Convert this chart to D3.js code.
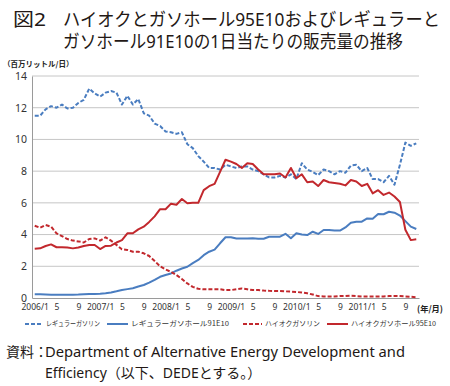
<!DOCTYPE html>
<html>
<head>
<meta charset="utf-8">
<script src="https://cdn.jsdelivr.net/npm/d3@7"></script>
<style>
  body { margin: 0; background: #fff; }
  text { font-family: "Noto Sans", "Noto Sans CJK JP", sans-serif; }
  .jp { font-family: "Noto Sans CJK JP", sans-serif; }
</style>
</head>
<body>
<svg id="chart" width="450" height="386"></svg>
<script>
// 月次カテゴリ 2006/1 〜 2011/11
const years = [2006, 2007, 2008, 2009, 2010, 2011];
const months = years.flatMap(y => d3.range(1, 13).map(m => `${y}/${m}`)).slice(0, 71);
const yTicks = [0, 2, 4, 6, 8, 10, 12, 14];

// 販売量（百万リットル/日）
const regularGasoline = [
  11.5, 11.5, 11.9, 12.1, 12.0, 12.2, 11.95, 12.0, 12.3, 12.5, 13.2, 12.9,
  12.7, 12.95, 13.05, 12.95, 12.2, 12.75, 12.2, 12.55, 11.65, 11.5, 11.0, 10.85,
  10.5, 10.45, 10.35, 10.45, 9.7, 9.45, 8.95, 8.6, 8.2, 8.2, 8.1, 8.4,
  8.3, 8.2, 8.3, 8.3, 8.1, 8.0, 7.8, 7.6, 7.6, 7.7, 7.6, 7.8,
  7.5, 8.5, 8.1, 7.95, 7.75, 8.1, 8.0, 7.8, 8.0, 7.9, 8.35, 8.4,
  8.0, 8.2, 7.5, 7.5, 7.3, 7.7, 7.15, 8.4, 9.8, 9.6, 9.75
];
const regularGasohol91 = [
  0.23, 0.23, 0.22, 0.21, 0.2, 0.2, 0.2, 0.21, 0.22, 0.24, 0.25, 0.26,
  0.27, 0.3, 0.35, 0.42, 0.5, 0.56, 0.62, 0.72, 0.82, 0.97, 1.15, 1.34,
  1.45, 1.55, 1.72, 1.86, 1.97, 2.2, 2.4, 2.7, 2.92, 3.05, 3.45, 3.83,
  3.83, 3.75, 3.75, 3.76, 3.77, 3.74, 3.74, 3.86, 3.87, 3.87, 4.05, 3.77,
  4.08, 4.0, 3.97, 4.18, 4.04, 4.29, 4.29, 4.25, 4.25, 4.45, 4.75, 4.81,
  4.81, 5.02, 5.0, 5.3, 5.28, 5.44, 5.38, 5.2, 4.85, 4.5, 4.35
];
const premiumGasoline = [
  4.56, 4.43, 4.6, 4.5, 4.08, 3.9, 3.72, 3.62, 3.57, 3.5, 3.72, 3.76,
  3.62, 3.83, 3.62, 3.35, 3.07, 3.03, 2.92, 2.92, 2.82, 2.65, 2.33, 2.0,
  1.8, 1.65, 1.45, 1.2, 0.92, 0.7, 0.58, 0.55, 0.55, 0.55, 0.55, 0.5,
  0.5, 0.55, 0.6, 0.55, 0.5, 0.5, 0.47, 0.45, 0.44, 0.44, 0.42, 0.4,
  0.38, 0.35, 0.3, 0.22, 0.12, 0.1, 0.1, 0.1, 0.12, 0.12, 0.14, 0.12,
  0.1, 0.1, 0.1, 0.1, 0.1, 0.12, 0.13, 0.12, 0.1, 0.08, 0.05
];
const premiumGasohol95 = [
  3.1, 3.13, 3.28, 3.38, 3.2, 3.2, 3.18, 3.13, 3.18, 3.28, 3.34, 3.34,
  3.09, 3.28, 3.3, 3.5, 3.65, 4.08, 4.08, 4.33, 4.5, 4.8, 5.15, 5.6,
  5.6, 5.95, 5.88, 6.24, 5.97, 6.0, 6.0, 6.8, 7.05, 7.2, 7.95, 8.72,
  8.6, 8.45, 8.2, 8.5, 8.45, 8.1, 7.8, 7.8, 7.8, 7.85, 7.6, 8.2,
  7.55, 7.8, 7.3, 7.35, 7.06, 7.44, 7.3, 7.25, 7.2, 7.1, 7.44, 7.35,
  7.06, 7.2, 6.6, 6.8, 6.5, 6.65, 6.4, 6.05, 4.3, 3.65, 3.7
];

const seriesNames = ["レギュラーガソリン", "レギュラーガソホール91E10", "ハイオクガソリン", "ハイオクガソホール95E10"];

const blue = "#4a7dc0";
const red = "#c2282d";
const series = [
  {name: seriesNames[0], values: regularGasoline, color: blue, dash: "4,2"},
  {name: seriesNames[1], values: regularGasohol91, color: blue, dash: null},
  {name: seriesNames[2], values: premiumGasoline, color: red, dash: "4,2"},
  {name: seriesNames[3], values: premiumGasohol95, color: red, dash: null}
];

const svg = d3.select("#chart");
svg.append("rect").attr("width", 450).attr("height", 386).attr("fill", "#fff");

const plot = {left: 32, right: 419, top: 76, bottom: 298};

const x = d3.scalePoint().domain(months).range([plot.left, plot.right]).padding(0.5);
const y = d3.scaleLinear().domain([0, 14]).range([plot.bottom, plot.top]);

// タイトル
const title = svg.append("g").attr("class", "jp").attr("fill", "#231815").attr("font-size", 18.5);
title.append("text").attr("x", 13).attr("y", 26)
  .attr("textLength", 33).attr("lengthAdjust", "spacingAndGlyphs").text("図2");
title.append("text").attr("x", 63).attr("y", 26)
  .attr("textLength", 377).attr("lengthAdjust", "spacingAndGlyphs")
  .text("ハイオクとガソホール95E10およびレギュラーと");
title.append("text").attr("x", 63).attr("y", 48)
  .attr("textLength", 340).attr("lengthAdjust", "spacingAndGlyphs")
  .text("ガソホール91E10の1日当たりの販売量の推移");

// 単位
svg.append("text").attr("class", "jp").attr("x", 3).attr("y", 67)
  .attr("font-size", 7.5).attr("font-weight", "bold").attr("fill", "#222")
  .text("（百万リットル/日）");

// グリッド
svg.append("g")
  .selectAll("line")
  .data(yTicks.filter(d => d > 0))
  .enter()
  .append("line")
  .attr("x1", plot.left).attr("x2", plot.right)
  .attr("y1", d => y(d)).attr("y2", d => y(d))
  .attr("stroke", "#c6c6c6").attr("stroke-width", 1);

// 軸
const yAxis = svg.append("g").attr("transform", `translate(${plot.left},0)`)
  .call(d3.axisLeft(y).tickValues(yTicks).tickSize(0).tickPadding(5));
yAxis.select(".domain").attr("stroke", "#9a9a9a");
yAxis.selectAll("text").attr("font-size", 10.5).attr("fill", "#333");

const tickMonths = months.filter((m, i) => i % 4 === 0);
const xAxis = svg.append("g").attr("transform", `translate(0,${plot.bottom})`)
  .call(d3.axisBottom(x).tickValues(tickMonths).tickSize(0).tickPadding(6)
    .tickFormat(m => m.endsWith("/1") ? m : m.split("/")[1]));
xAxis.select(".domain").attr("stroke", "#9a9a9a");
xAxis.selectAll("text").attr("font-size", 8.5).attr("fill", "#333");

svg.append("text").attr("class", "jp").attr("x", 417).attr("y", 312)
  .attr("font-size", 8.5).attr("font-weight", "bold").attr("fill", "#222")
  .attr("textLength", 26).attr("lengthAdjust", "spacingAndGlyphs")
  .text("(年/月)");

// 折れ線
const line = d3.line()
  .x((d, i) => x(months[i]))
  .y(d => y(d));

svg.append("g")
  .selectAll("path")
  .data(series)
  .enter()
  .append("path")
  .attr("fill", "none")
  .attr("stroke", d => d.color)
  .attr("stroke-width", 2)
  .attr("stroke-linejoin", "round")
  .attr("stroke-dasharray", d => d.dash)
  .attr("d", d => line(d.values));

// 凡例
const legendPos = [25, 107, 243, 327];
const legendLen = [18, 21, 19, 21];
const legendTextW = [54, 98, 55, 85];
const legend = svg.append("g").selectAll("g")
  .data(series)
  .enter()
  .append("g")
  .attr("transform", (d, i) => `translate(${legendPos[i]},324)`);
legend.append("line")
  .attr("x1", 0).attr("x2", (d, i) => legendLen[i])
  .attr("stroke", d => d.color).attr("stroke-width", 2)
  .attr("stroke-dasharray", d => d.dash);
legend.append("text")
  .attr("class", "jp")
  .attr("x", (d, i) => legendLen[i] + 3)
  .attr("dy", "0.35em")
  .attr("font-size", 7)
  .attr("fill", "#333")
  .attr("textLength", (d, i) => legendTextW[i])
  .attr("lengthAdjust", "spacingAndGlyphs")
  .text(d => d.name);

// 資料
const src = svg.append("g").attr("class", "jp").attr("fill", "#231815").attr("font-size", 14);
src.append("text").attr("x", 6).attr("y", 357).text("資料：");
src.append("text").attr("x", 45).attr("y", 357)
  .attr("textLength", 360).attr("lengthAdjust", "spacingAndGlyphs")
  .text("Department of Alternative Energy Development and");
src.append("text").attr("x", 45).attr("y", 378)
  .text("Efficiency（以下、DEDEとする。）");
</script>
</body>
</html>
